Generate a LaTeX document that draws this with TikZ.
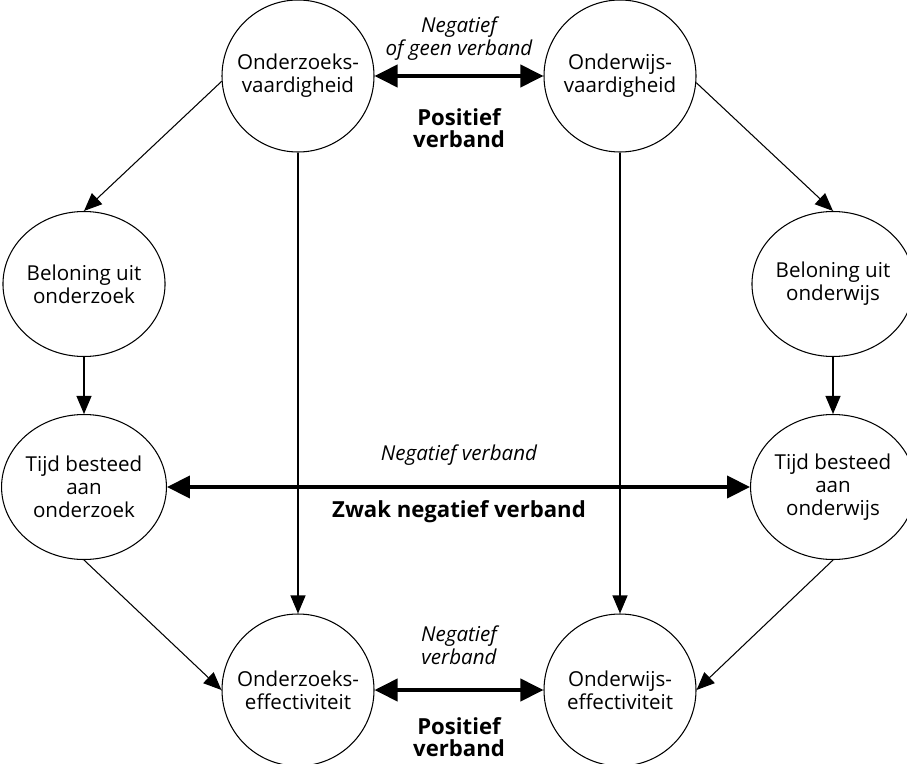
\documentclass[tikz,border=0pt]{standalone}
\usepackage{fontspec}
\setmainfont{Open Sans}
\usetikzlibrary{arrows.meta,shapes.geometric}
\tikzset{
  bol/.style={circle,draw=black,line width=0.6pt,minimum size=3.04cm,inner sep=0pt,
    align=center,font=\fontsize{11.7}{13.2}\selectfont},
  platbol/.style={bol,ellipse,minimum width=3.1cm,minimum height=2.9cm},
  pijl/.style={draw=black,line width=0.6pt,-{Triangle[length=0.36cm,width=0.3cm]}},
  dikpijl/.style={draw=black,line width=2.3pt,
    {Triangle[length=0.46cm,width=0.44cm]}-{Triangle[length=0.46cm,width=0.44cm]}},
  schuin/.style={align=center,font=\fontsize{11.7}{13.2}\selectfont\itshape},
  vet/.style={align=center,font=\fontsize{12.6}{12.8}\selectfont\bfseries}
}

\begin{document}
\begin{tikzpicture}[x=1cm,y=1cm]
  \useasboundingbox (0,0) rectangle (18.14,15.26);

  % Vaardigheden, beloning, tijd en effectiviteit in twee kolommen.
  \node[bol] (vo) at (5.96,13.74) {Onderzoeks-\\vaardigheid};
  \node[bol] (vw) at (12.40,13.74) {Onderwijs-\\vaardigheid};
  \node[platbol] (bo) at (1.68,9.58) {Beloning uit\\onderzoek};
  \node[platbol] (bw) at (16.66,9.58) {Beloning uit\\onderwijs};
  \node[platbol] (to) at (1.68,5.52) {Tijd besteed\\aan\\onderzoek};
  \node[platbol] (tw) at (16.66,5.52) {Tijd besteed\\aan\\onderwijs};
  \node[bol] (eo) at (5.96,1.46) {Onderzoeks-\\effectiviteit};
  \node[bol] (ew) at (12.40,1.46) {Onderwijs-\\effectiviteit};

  \draw[pijl] (vo.184) -- (bo.north);
  \draw[pijl] (vw.355) -- (bw.north);
  \draw[pijl] (bo.south) -- (to.north);
  \draw[pijl] (bw.south) -- (tw.north);
  \draw[pijl] (to.south) -- (eo.west);
  \draw[pijl] (tw.south) -- (ew.east);
  \draw[pijl] (vo.south) -- (eo.north);
  \draw[pijl] (vw.south) -- (ew.north);

  \draw[dikpijl] (vo.east) -- (vw.west);
  \draw[dikpijl] (to.east) -- (tw.west);
  \draw[dikpijl] (eo.east) -- (ew.west);

  \node[schuin] (negboven) at (9.18,14.48) {Negatief\\of geen verband};
  \node[vet] (posboven) at (9.18,12.70) {Positief\\verband};
  \node[schuin] (negmidden) at (9.18,6.16) {Negatief verband};
  \node[vet] (zwakmidden) at (9.18,5.02) {Zwak negatief verband};
  \node[schuin] (negonder) at (9.18,2.36) {Negatief\\verband};
  \node[vet] (posonder) at (9.18,0.52) {Positief\\verband};
\end{tikzpicture}
\end{document}
